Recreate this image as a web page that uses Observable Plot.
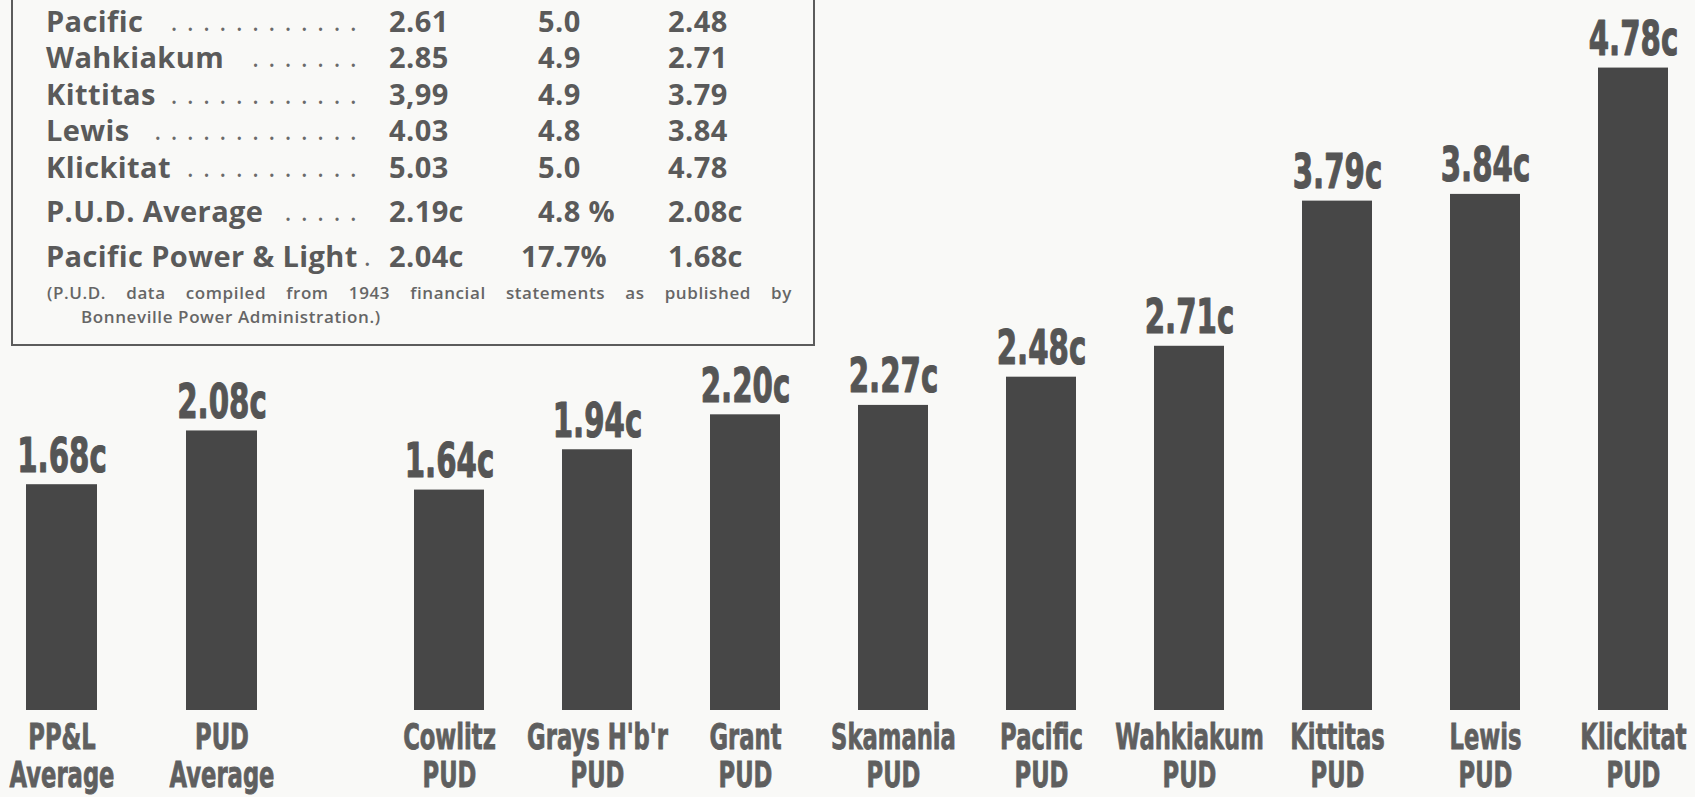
<!DOCTYPE html>
<html>
<head>
<meta charset="utf-8">
<script src="https://cdn.jsdelivr.net/npm/d3@7"></script>
<script src="https://cdn.jsdelivr.net/npm/@observablehq/plot@0.6"></script>
<style>
  html, body { margin: 0; padding: 0; background: #f9f9f7; }
  #wrap { position: relative; width: 1695px; height: 797px; overflow: hidden; background: #f9f9f7; }
  #wrap svg { position: absolute; left: 0; top: 0; background: transparent; overflow: visible; }
  #box { position: absolute; left: 11px; top: -60px; width: 800px; height: 402px;
         border: 2.5px solid #5c5c5c; box-sizing: content-box; z-index: 5; }
  .row { position: absolute; font-family: "Open Sans", sans-serif; font-weight: 700;
         font-size: 29px; letter-spacing: 0.4px; line-height: 30px; color: #5a5a5a; white-space: nowrap; z-index: 6; }
  .dots { position: absolute; font-family: "Open Sans", sans-serif; font-weight: 400; font-size: 27px;
          line-height: 30px; letter-spacing: 9.2px; color: #6a6a6a; white-space: nowrap; z-index: 6; text-align: right; }
  .note { position: absolute; font-family: "Open Sans", sans-serif; font-weight: 600; font-size: 17px;
          letter-spacing: 0.6px; line-height: 20px; color: #666; white-space: nowrap; z-index: 6; }
</style>
</head>
<body>
<div id="wrap"></div>
<script>
// ---- Chart data (cents per kWh) ----
const avgCategories = ["PP&L\nAverage", "PUD\nAverage"];
const avgValues = [1.68, 2.08];
const pudCategories = ["Cowlitz\nPUD", "Grays H'b'r\nPUD", "Grant\nPUD", "Skamania\nPUD", "Pacific\nPUD",
                       "Wahkiakum\nPUD", "Kittitas\nPUD", "Lewis\nPUD", "Klickitat\nPUD"];
const pudValues = [1.64, 1.94, 2.20, 2.27, 2.48, 2.71, 3.79, 3.84, 4.78];

// ---- Inset table data ----
const tableNames = ["Pacific", "Wahkiakum", "Kittitas", "Lewis", "Klickitat", "P.U.D. Average", "Pacific Power & Light"];
const tableCol1 = ["2.61", "2.85", "3,99", "4.03", "5.03", "2.19c", "2.04c"];
const tableCol2 = ["5.0", "4.9", "4.9", "4.8", "5.0", "4.8 %", "17.7%"];
const tableCol3 = ["2.48", "2.71", "3.79", "3.84", "4.78", "2.08c", "1.68c"];
const noteLines = ["(P.U.D. data compiled from 1943 financial statements as published by",
                   "Bonneville Power Administration.)"];

const wrap = document.getElementById("wrap");
const W = 1695, H = 797;
const barColor = "#474747";
const valueFont = "DejaVu Sans, sans-serif";

function makeChart(cats, vals, marginLeft, marginRight, paddingInner) {
  const data = cats.map((c, i) => ({cat: c, value: vals[i]}));
  const chart = Plot.plot({
    width: W, height: H,
    marginLeft, marginRight, marginTop: 38, marginBottom: 87,
    style: {background: "transparent", overflow: "visible"},
    x: {domain: cats, paddingInner, paddingOuter: 0, align: 0.5, axis: null},
    y: {domain: [0, 5], axis: null},
    marks: [
      Plot.barY(data, {x: "cat", y: "value", fill: barColor}),
      Plot.text(data, {x: "cat", y: "value", text: d => d.value.toFixed(2) + "c",
        lineAnchor: "bottom", dy: -13, fontSize: 48, fontWeight: "bold",
        fontFamily: valueFont, fill: "#555", stroke: "#555", strokeWidth: 1.2}),
      Plot.axisX({tickSize: 0, tickPadding: 12, fontSize: 36, fontWeight: "bold",
        fontFamily: valueFont, lineHeight: 1.05, fill: "#5f5f5f", label: null})
    ]
  });
  // condense the heavy gothic lettering horizontally
  chart.querySelectorAll('g[aria-label="text"] text').forEach(t => condense(t, 0.61));
  chart.querySelectorAll('g[aria-label="x-axis tick label"] text').forEach(t => {
    condense(t, 0.63);
    t.setAttribute("stroke", "#5f5f5f"); t.setAttribute("stroke-width", "0.9");
  });
  return chart;
}
function condense(t, s) {
  const tr = t.getAttribute("transform");
  if (tr) t.setAttribute("transform", tr + ` scale(${s},1)`);
  else {
    const x = t.getAttribute("x") || 0, y = t.getAttribute("y") || 0;
    t.removeAttribute("x"); t.removeAttribute("y");
    t.setAttribute("transform", `translate(${x},${y}) scale(${s},1)`);
  }
}

wrap.appendChild(makeChart(avgCategories, avgValues, 26, W - 257.5, 0.5576));
wrap.appendChild(makeChart(pudCategories, pudValues, 412, 25, 0.5286));

// ---- Inset table ----
const box = document.createElement("div");
box.id = "box";
wrap.appendChild(box);
const baselines = [31, 67.5, 104, 140.5, 177, 221, 266];
const baseOff = 25.5;
const addDiv = (cls, text, left, top) => {
  const d = document.createElement("div");
  d.className = cls; d.style.left = left + "px"; d.style.top = top + "px";
  d.textContent = text; wrap.appendChild(d); return d;
};
tableNames.forEach((name, i) => {
  const top = baselines[i] - baseOff;
  const nm = addDiv("row", name, 46, top);
  const nameEnd = 46 + nm.getBoundingClientRect().width;
  const dotsEnd = i === 6 ? 380 : 366;
  const count = Math.max(1, Math.floor((dotsEnd - nameEnd - 10) / 16.5));
  const dt = addDiv("dots", ".".repeat(count), 0, top);
  const dw = dt.getBoundingClientRect().width;
  dt.style.left = (dotsEnd - dw) + "px";
  addDiv("row", tableCol1[i], 389, top);
  addDiv("row", tableCol2[i], i === 6 ? 521 : 538, top);
  addDiv("row", tableCol3[i], 668, top);
});
const n1 = addDiv("note", noteLines[0], 47, 298 - 15);
n1.style.width = "745px"; n1.style.whiteSpace = "normal";
n1.style.textAlign = "justify"; n1.style.textAlignLast = "justify";
addDiv("note", noteLines[1], 81, 322 - 15);
</script>
</body>
</html>
